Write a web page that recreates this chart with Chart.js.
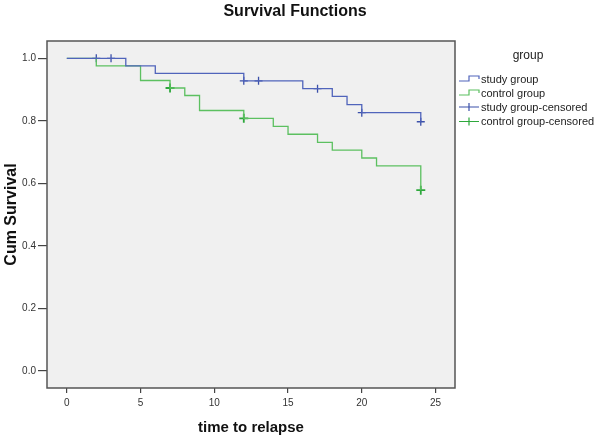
<!DOCTYPE html>
<html>
<head>
<meta charset="utf-8">
<script src="https://cdn.jsdelivr.net/npm/chart.js@4.4.1/dist/chart.umd.min.js"></script>
<style>
  html, body { margin: 0; padding: 0; background: #ffffff; }
  #wrap { width: 600px; height: 441px; position: relative; }
</style>
</head>
<body>
<div id="wrap"><canvas id="c" width="600" height="441"></canvas></div>
<script>
// ---- data ----
const chartTitle = "Survival Functions";
const xTitle = "time to relapse";
const yTitle = "Cum Survival";
const legendTitle = "group";
const xTicks = [0, 5, 10, 15, 20, 25];
const yTicks = [0.0, 0.2, 0.4, 0.6, 0.8, 1.0];

const studyTimes = [0, 4, 6, 12, 16, 18, 19, 20, 24];
const studySurv  = [1.0, 0.976, 0.952, 0.928, 0.903, 0.878, 0.852, 0.826, 0.797];
const controlTimes = [0, 2, 5, 7, 8, 9, 12, 14, 15, 17, 18, 20, 21, 24];
const controlSurv  = [1.0, 0.976, 0.929, 0.905, 0.881, 0.833, 0.808, 0.782, 0.757, 0.731, 0.706, 0.681, 0.656, 0.578];

const studyCensTimes = [2, 3, 12, 13, 17, 20, 24];
const studyCensSurv  = [1.0, 1.0, 0.928, 0.928, 0.903, 0.826, 0.797];
const controlCensTimes = [7, 12, 24];
const controlCensSurv  = [0.905, 0.808, 0.578];

const seriesLabels = ["study group", "control group", "study group-censored", "control group-censored"];

// ---- styles ----
const FONT = "'Liberation Sans', Arial, sans-serif";
const blueLine = "#5064bb";
const greenLine = "#5cc060";
const blueCross = "#3b50aa";
const greenCross = "#2ea83c";

const pts = (xs, ys) => xs.map((x, i) => ({ x: x, y: ys[i] }));

const bgPlugin = {
  id: 'plotBg',
  beforeDatasetsDraw(chart) {
    const { ctx, chartArea: a } = chart;
    ctx.save();
    ctx.fillStyle = '#f0f0f0';
    ctx.fillRect(a.left, a.top, a.right - a.left, a.bottom - a.top);
    ctx.restore();
  },
  afterDraw(chart) {
    const { ctx, chartArea: a } = chart;
    ctx.save();
    ctx.strokeStyle = '#555555';
    ctx.lineWidth = 1.5;
    ctx.strokeRect(a.left, a.top, a.right - a.left, a.bottom - a.top);

    // main title
    ctx.fillStyle = '#111';
    ctx.textAlign = 'center';
    ctx.textBaseline = 'middle';
    ctx.font = 'bold 16px ' + FONT;
    ctx.fillText(chartTitle, 295, 12);

    // legend (drawn from dataset labels/colours)
    ctx.fillStyle = '#222';
    ctx.font = '12px ' + FONT;
    ctx.fillText(legendTitle, 528, 56);
    const rows = [79, 93, 107, 121.5];
    const x0 = 459, x1 = 479;
    chart.data.datasets.forEach((ds, i) => {
      const y = rows[i];
      ctx.lineWidth = 1.2;
      ctx.strokeStyle = ds.borderColor;
      ctx.beginPath();
      if (i < 2) {
        ctx.moveTo(x0, y + 2);
        ctx.lineTo(x0 + 10, y + 2);
        ctx.lineTo(x0 + 10, y - 3);
        ctx.lineTo(x1, y - 3);
        ctx.lineTo(x1, y);
      } else {
        ctx.moveTo(x0, y);
        ctx.lineTo(x1, y);
        ctx.moveTo(x0 + 10, y - 4);
        ctx.lineTo(x0 + 10, y + 4);
      }
      ctx.stroke();
      ctx.fillStyle = '#222';
      ctx.textAlign = 'left';
      ctx.font = '11px ' + FONT;
      ctx.fillText(ds.label, 481, y + 0.5);
    });
    ctx.restore();
  }
};

new Chart(document.getElementById('c'), {
  type: 'line',
  data: {
    datasets: [
      {
        label: seriesLabels[0],
        data: pts(studyTimes, studySurv),
        borderColor: blueLine,
        borderWidth: 1.3,
        stepped: 'before',
        pointRadius: 0,
        fill: false
      },
      {
        label: seriesLabels[1],
        data: pts(controlTimes, controlSurv),
        borderColor: greenLine,
        borderWidth: 1.3,
        stepped: 'before',
        pointRadius: 0,
        fill: false
      },
      {
        label: seriesLabels[2],
        data: pts(studyCensTimes, studyCensSurv),
        borderColor: blueCross,
        backgroundColor: blueCross,
        showLine: false,
        pointStyle: 'cross',
        pointRadius: 4,
        pointBorderWidth: 1.3
      },
      {
        label: seriesLabels[3],
        data: pts(controlCensTimes, controlCensSurv),
        borderColor: greenCross,
        backgroundColor: greenCross,
        showLine: false,
        pointStyle: 'cross',
        pointRadius: 4.5,
        pointBorderWidth: 1.8
      }
    ]
  },
  options: {
    responsive: false,
    animation: false,
    devicePixelRatio: 1,
    layout: { padding: { left: 0, top: 41, right: 145, bottom: 0 } },
    plugins: {
      legend: { display: false },
      tooltip: { enabled: false },
      title: { display: false }
    },
    scales: {
      x: {
        type: 'linear',
        min: -1.342,
        max: 26.32,
        afterFit(s) { s.height = 53; },
        afterBuildTicks(s) { s.ticks = xTicks.map(v => ({ value: v })); },
        grid: { display: true, drawOnChartArea: false, drawTicks: true, tickLength: 5, color: '#444', lineWidth: 1.2 },
        border: { display: false },
        ticks: { color: '#333', font: { family: FONT, size: 10 }, padding: 4, maxRotation: 0, autoSkip: false },
        title: { display: true, text: xTitle, color: '#111', font: { family: FONT, size: 15, weight: 'bold' }, padding: { top: 0, bottom: 4 } }
      },
      y: {
        type: 'linear',
        min: -0.055,
        max: 1.0554,
        afterFit(s) { s.width = 47; },
        afterBuildTicks(s) { s.ticks = yTicks.map(v => ({ value: v })); },
        grid: { display: true, drawOnChartArea: false, drawTicks: true, tickLength: 9, color: '#444', lineWidth: 1.2 },
        border: { display: false },
        ticks: { color: '#333', font: { family: FONT, size: 10 }, padding: 2, autoSkip: false,
                 callback: v => Number(v).toFixed(1) },
        title: { display: true, text: yTitle, color: '#111', font: { family: FONT, size: 16, weight: 'bold' }, padding: { top: 2, bottom: 0 } }
      }
    }
  },
  plugins: [bgPlugin]
});
</script>
</body>
</html>
